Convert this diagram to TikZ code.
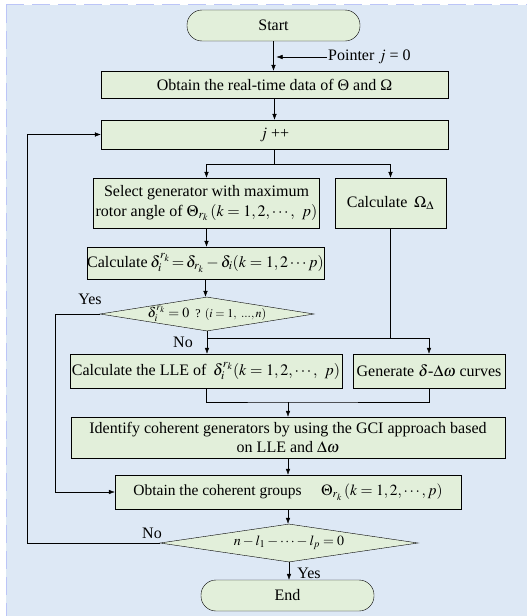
\documentclass[tikz,border=0pt]{standalone}
\usepackage{mathptmx}
\usepackage{fontspec}
\setmainfont{Liberation Serif}
\usetikzlibrary{arrows.meta,positioning,shapes.geometric,calc}
\definecolor{bgblue}{RGB}{221,232,245}
\definecolor{boxgreen}{RGB}{226,239,218}

\begin{document}
\begin{tikzpicture}[
      x=1pt, y=-1pt,
      mybox/.style={
         rectangle,
         draw=black,
         fill=boxgreen,
         inner sep=2pt,
         align=center,
         font=\fontsize{16}{20}\selectfont},
      myterm/.style={mybox, rounded corners=15pt,
         minimum width=173pt, minimum height=31pt},
      mydec/.style={diamond, draw=black, fill=boxgreen, inner sep=0pt},
      mylabel/.style={font=\fontsize{16}{20}\selectfont, inner sep=1pt},
      myarrow/.style={-{Latex[length=6pt,width=4.5pt]}}
      ]
      % page and background
      \useasboundingbox (0,0) rectangle (527,616);
      \fill[white] (0,0) rectangle (527,616);
      \fill[bgblue] (6,5) rectangle (527,616);
      \draw[bgblue!85!blue, line width=1.5pt, dash pattern=on 18pt off 8pt]
         (6,4.5) -- (527,4.5) (6.5,5) -- (6.5,616);

      \node[myterm] (start) at (273.5,25.5) {Start};
      \node[mybox, minimum width=347pt, minimum height=27pt] (obtain) at (274.5,84.5)
         {Obtain the real-time data of Θ and Ω};
      \node[mybox, minimum width=347pt, minimum height=29pt] (jpp) at (274.5,134.5)
         {$j$ ++};
      \node[mybox, minimum width=217pt, minimum height=50pt] (select) at (206.5,203)
         {Select generator with maximum\\
          rotor angle of $\Theta_{r_k}\,(k=1,2,\cdots,\;\,p)$};
      \node[mybox, minimum width=111pt, minimum height=50pt] (omega) at (390.5,203)
         {Calculate \,$\Omega_\Delta$};
      \node[mybox, minimum width=215pt, minimum height=32pt, inner sep=0pt] (delta) at (205.5,263)
         {Calculate\,$\delta_i^{r_k}\!=\!\delta_{r_k}-\delta_i(k=1,2\cdots p)$};
      \node[mydec, minimum width=214pt, minimum height=34pt,
         label={[mylabel, font=\fontsize{14}{16}\selectfont]center:$\delta_i^{r_k}=0$\;\,{\fontsize{12}{14}\selectfont ? $(i=1,\ ...,n)$}}]
         (dec1) at (207,314) {};
      \node[mybox, minimum width=270pt, minimum height=34pt] (lle) at (206,371)
         {Calculate the LLE of \,$\delta_i^{r_k}(k=1,2,\cdots,\;\,p)$};
      \node[mybox, minimum width=152pt, minimum height=34pt, inner sep=0pt] (curves) at (429,371)
         {Generate $\delta$-$\Delta\omega$ curves};
      \node[mybox, minimum width=434pt, minimum height=41pt, font=\fontsize{16}{19}\selectfont]
         (identify) at (288,437.5)
         {Identify coherent generators by using the GCI approach based\\
          on LLE and $\Delta\omega$};
      \node[mybox, minimum width=346pt, minimum height=34pt, font=\fontsize{15.5}{18}\selectfont]
         (groups) at (288,492)
         {Obtain the coherent groups \quad $\Theta_{r_k}\,(k=1,2,\cdots,p)$};
      \node[mydec, minimum width=258pt, minimum height=38pt,
         label={[mylabel, font=\fontsize{14}{16}\selectfont]center:$n-l_1-\cdots-l_p=0$}]
         (dec2) at (289,543) {};
      \node[myterm] (end) at (287.5,595.5) {End};

      % helper points for the joins
      \node[mylabel, anchor=west] (ptr) at (327,57) {Pointer $j$ = 0};
      \coordinate (pj) at (start.south |- ptr.west);
      \coordinate (split) at (jpp.south |- 0,164);
      \coordinate (m1) at (dec1.south |- 0,338);
      \coordinate (m2) at (curves.north |- 0,338);
      \coordinate (m3) at (identify.north |- 0,402);
      \coordinate (yescorner) at (55,314);
      \coordinate (nocorner) at (27,543);

      \foreach \i/\j in {% straight flow from node to node
        start/obtain,
        obtain/jpp,
        select/delta,
        delta/dec1,
        identify/groups,
        groups/dec2,
        dec2/end}
       \draw [myarrow] (\i.south) -- (\i.south |- \j.north);

      \draw [myarrow] (ptr.west) -- ([xshift=3pt]pj);
      \draw (jpp.south) -- (split);
      \draw [myarrow] (split) -| (select.north);
      \draw [myarrow] (split) -| (omega.north);
      \draw [myarrow] (dec1.south) -- (dec1.south |- lle.north);
      \draw (omega.south) -- (omega.south |- m2);
      \draw (m1) -- (m2);
      \draw [myarrow] (m2) -- (curves.north);
      \draw (lle.south) |- (m3) -| (curves.south);
      \draw [myarrow] (m3) -- (identify.north);
      \draw [myarrow] (dec1.west) -- (yescorner) |- (groups.west);
      \draw [myarrow] (dec2.west) -- (nocorner) |- (jpp.west);

      \node[mylabel] (yes1) at (90,299) {Yes};
      \node[mylabel] (no1) at (183,342) {No};
      \node[mylabel] (no2) at (152,533) {No};
      \node[mylabel] (yes2) at (309,573) {Yes};
    \end{tikzpicture}
\end{document}
